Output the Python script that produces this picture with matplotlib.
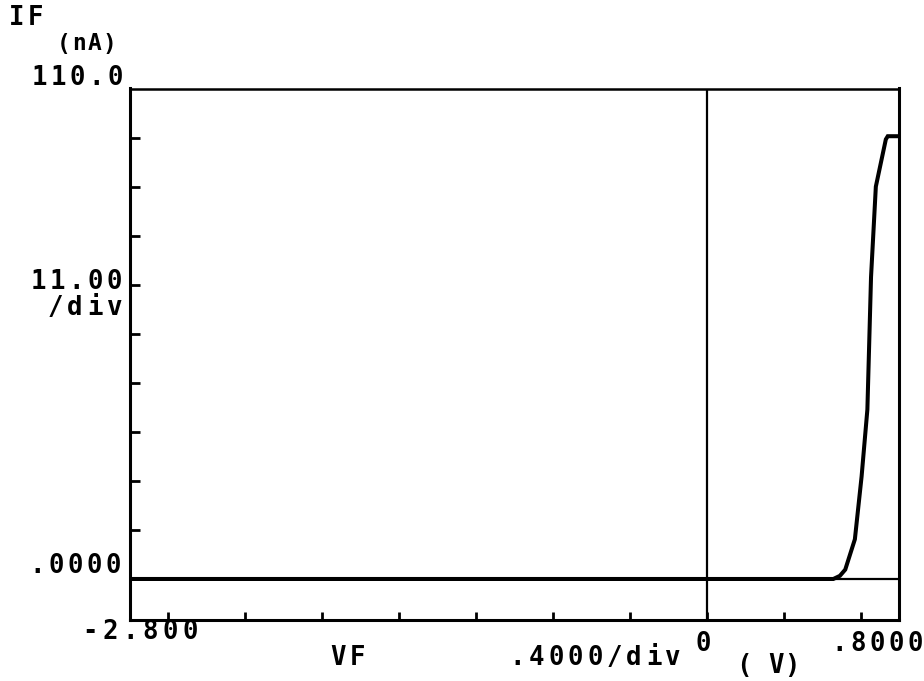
import matplotlib
matplotlib.use("Agg")
import matplotlib.pyplot as plt
import numpy as np

# forward sweep, VF in volts, IF in nA
vf = [-3.0, 0.656, 0.69, 0.718, 0.768, 0.803, 0.833, 0.852, 0.877, 0.929, 0.939, 1.0]
i_f = [0.0, 0.0, 0.7, 2.1, 8.9, 23.0, 38.0, 67.7, 88.0, 98.6, 99.3, 99.3]

x_min, x_max = -3.0, 1.0
y_min, y_max = -9.2, 110.0
x_ticks = np.arange(-2.8, 0.81, 0.4)
y_ticks = np.arange(11.0, 100.0, 11.0)

W, H = 924, 681
fig = plt.figure(figsize=(W / 100, H / 100), dpi=100)
ax = fig.add_axes([130 / W, 1 - 620 / H, 769.5 / W, 531.5 / H])

ax.plot(vf, i_f, color="black", lw=2.9, solid_joinstyle="miter")
ax.axhline(0, color="black", lw=1.6)
ax.axvline(0, color="black", lw=1.6)

ax.set_xlim(x_min, x_max)
ax.set_ylim(y_min, y_max)
for sp in ax.spines.values():
    sp.set_linewidth(2.2)
ax.spines["top"].set_linewidth(1.8)

ax.set_xticks(x_ticks)
ax.set_yticks(y_ticks)
ax.tick_params(direction="in", length=6, width=2, labelbottom=False, labelleft=False,
               top=False, right=False)
ax.tick_params(axis="y", length=7)


def plotter_text(x, y, s, pitch=19, size=18.5):
    # monospaced pen-plotter lettering, one character per cell (pixel coords, y from top)
    for k, ch in enumerate(s):
        fig.text((x + k * pitch) / W, 1 - y / H, ch, ha="center", va="center",
                 family="DejaVu Sans Mono", weight="bold", fontsize=size)


plotter_text(17, 18, "IF", pitch=19)
plotter_text(64, 44, "(nA)", pitch=15, size=16.5)
plotter_text(39, 78, "110.0")
plotter_text(38, 282, "11.00")
plotter_text(55, 308, "/div", pitch=20)
plotter_text(37, 566, ".0000")
plotter_text(90, 632, "-2.800", pitch=20)
plotter_text(338, 658, "VF", pitch=20)
plotter_text(517, 658, ".4000/div", pitch=19.5)
plotter_text(703, 644, "0")
plotter_text(744, 666, "( V)", pitch=16)
plotter_text(839, 644, ".8000")

fig.savefig("out.png", dpi=100)
